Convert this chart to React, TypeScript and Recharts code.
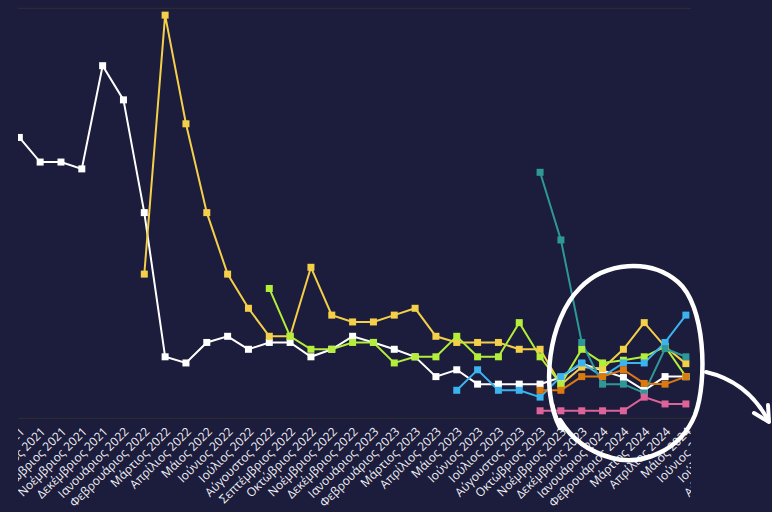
import React from 'react';
import { LineChart, Line, XAxis, YAxis, CartesianGrid } from 'recharts';

const months = [
  'Αύγουστος 2021', 'Σεπτέμβριος 2021', 'Οκτώβριος 2021', 'Νοέμβριος 2021', 'Δεκέμβριος 2021',
  'Ιανουάριος 2022', 'Φεβρουάριος 2022', 'Μάρτιος 2022', 'Απρίλιος 2022', 'Μάιος 2022', 'Ιούνιος 2022',
  'Ιούλιος 2022', 'Αύγουστος 2022', 'Σεπτέμβριος 2022', 'Οκτώβριος 2022', 'Νοέμβριος 2022', 'Δεκέμβριος 2022',
  'Ιανουάριος 2023', 'Φεβρουάριος 2023', 'Μάρτιος 2023', 'Απρίλιος 2023', 'Μάιος 2023', 'Ιούνιος 2023',
  'Ιούλιος 2023', 'Αύγουστος 2023', 'Οκτώβριος 2023', 'Νοέμβριος 2023', 'Δεκέμβριος 2023',
  'Ιανουάριος 2024', 'Φεβρουάριος 2024', 'Μάρτιος 2024', 'Απρίλιος 2024', 'Μάιος 2024', 'Ιούνιος 2024',
  'Ιούλιος 2024', 'Αύγουστος 2024',
];

const _ = null;
const whiteSeries = [41.1, 37.5, 37.5, 36.5, 51.6, 46.6, 30.1, 9.0, 8.1, 11.1, 12.0, 10.1, 11.1, 11.1, 9.0, 10.1, 12.0, 11.1, 10.1, 9.0, 6.1, 7.1, 5.0, 5.0, 5.0, 5.0, 6.0, 8.0, 7.0, 6.0, 4.1, 6.1, 6.1, _, _, _];
const yellowSeries = [_, _, _, _, _, _, 21.1, 59.0, 43.1, 30.1, 21.1, 16.1, 12.0, 12.0, 22.1, 15.1, 14.1, 14.1, 15.1, 16.1, 12.0, 11.1, 11.1, 11.1, 10.1, 10.1, 4.9, 7.5, 7.3, 10.1, 14.0, 10.5, 8.0, _, _, _];
const greenSeries = [_, _, _, _, _, _, _, _, _, _, _, _, 19.0, 12.0, 10.1, 10.1, 11.1, 11.1, 8.1, 9.0, 9.0, 12.0, 9.0, 9.0, 14.0, 9.0, 5.0, 10.1, 8.1, 8.5, 9.0, 10.5, 6.1, _, _, _];
const blueSeries = [_, _, _, _, _, _, _, _, _, _, _, _, _, _, _, _, _, _, _, _, _, 4.1, 7.1, 4.1, 4.1, 3.1, 6.1, 8.1, 6.1, 8.1, 8.1, 11.1, 15.1, _, _, _];
const tealSeries = [_, _, _, _, _, _, _, _, _, _, _, _, _, _, _, _, _, _, _, _, _, _, _, _, _, 36.0, 26.1, 11.1, 5.0, 5.0, 3.7, 10.2, 9.0, _, _, _];
const orangeSeries = [_, _, _, _, _, _, _, _, _, _, _, _, _, _, _, _, _, _, _, _, _, _, _, _, _, 4.1, 4.1, 6.1, 6.1, 7.1, 5.1, 5.0, 6.1, _, _, _];
const pinkSeries = [_, _, _, _, _, _, _, _, _, _, _, _, _, _, _, _, _, _, _, _, _, _, _, _, _, 1.1, 1.1, 1.1, 1.1, 1.1, 3.1, 2.1, 2.1, _, _, _];

const yTicks = [0, 10, 20, 30, 40, 50, 60];

const BG = '#1c1c3c';

const series = [
  { key: 'white', color: '#ffffff' },
  { key: 'yellow', color: '#f4cf4a' },
  { key: 'green', color: '#b2ee3a' },
  { key: 'blue', color: '#3ab3ee' },
  { key: 'teal', color: '#2e9897' },
  { key: 'orange', color: '#dc7a10' },
  { key: 'pink', color: '#de6399' },
];

const makeDot = (color: string) => (props: any) => {
  const { cx, cy, index, value } = props;
  if (cx == null || cy == null || value == null || Number.isNaN(cy)) return <g key={`d-${index}`} />;
  return <rect key={`d-${index}`} x={cx - 3.5} y={cy - 3.5} width={7} height={7} fill={color} />;
};

export default function App() {
  const data = months.map((m, i) => ({
    month: m,
    white: whiteSeries[i],
    yellow: yellowSeries[i],
    green: greenSeries[i],
    blue: blueSeries[i],
    teal: tealSeries[i],
    orange: orangeSeries[i],
    pink: pinkSeries[i],
  }));

  return (
    <div style={{ position: 'absolute', left: 0, top: 0, width: 772, height: 512, background: BG, overflow: 'hidden' }}>
      <div style={{ position: 'absolute', left: 18, top: 0, width: 673, height: 512, overflow: 'hidden' }}>
        <div style={{ position: 'absolute', left: -18, top: 0 }}>
          <LineChart
            width={770}
            height={512}
            data={data}
            margin={{ top: 8.3, right: 11.2, left: 8.9, bottom: 0 }}
          >
            <CartesianGrid vertical={false} stroke="#2c2b30" strokeWidth={1.2} />
            <XAxis
              dataKey="month"
              interval={0}
              angle={-45}
              textAnchor="end"
              height={93.7}
              padding={{ left: 10.41, right: 10.41 }}
              axisLine={false}
              tickLine={false}
              tick={{ fill: '#f2f2f5', fontSize: 12, fontFamily: 'Open Sans' }}
            />
            <YAxis
              type="number"
              domain={[0, 60]}
              ticks={yTicks}
              tick={false}
              axisLine={false}
              tickLine={false}
              width={0}
            />
            {series.map((s) => (
              <Line
                key={s.key}
                type="linear"
                dataKey={s.key}
                stroke={s.color}
                strokeWidth={2}
                dot={makeDot(s.color)}
                activeDot={false}
                isAnimationActive={false}
                connectNulls={false}
              />
            ))}
          </LineChart>
        </div>
      </div>
      <svg
        width={772}
        height={512}
        style={{ position: 'absolute', left: 0, top: 0, pointerEvents: 'none' }}
      >
        <defs>
          <filter id="soft" x="-10%" y="-10%" width="120%" height="120%">
            <feGaussianBlur stdDeviation="0.7" />
          </filter>
        </defs>
        <g filter="url(#soft)" fill="none" stroke="#ffffff" strokeLinecap="round" strokeLinejoin="round">
          <path
            d="M 560 428 C 540 390, 548 320, 580 288 C 605 262, 650 258, 678 282 C 705 305, 708 380, 695 415 C 680 452, 640 466, 612 458 C 590 452, 572 440, 560 420"
            strokeWidth={4.5}
          />
          <path d="M 553 404 C 555 414, 558 422, 563 430" strokeWidth={2.5} />
          <path d="M 706 372 C 732 378, 754 394, 768 420" strokeWidth={4} />
          <path d="M 754 413 L 769 422 L 768 405" strokeWidth={4} />
        </g>
      </svg>
    </div>
  );
}
